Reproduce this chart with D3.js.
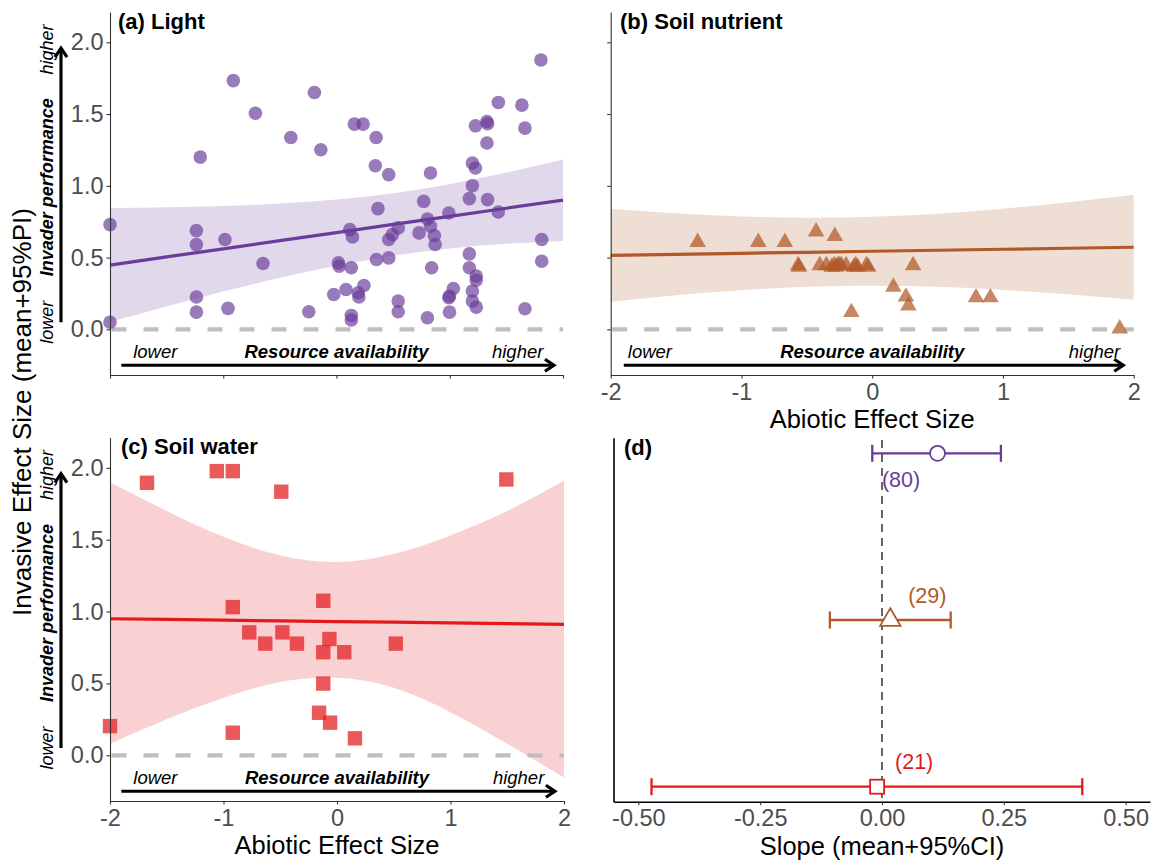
<!DOCTYPE html>
<meta charset="utf-8">
<script src="https://d3js.org/d3.v7.min.js"></script>
<style>
  body { margin: 0; background: #fff; }
  text { font-family: "Liberation Sans", Arial, sans-serif; }
</style>
<body>
<div id="chart"></div>
<script>

// ---- data ----
// (a) light: abiotic effect size vs invasive effect size
var lightX = [-2.0, -2.0, -1.237, -1.237, -1.203, -1.237, -1.237, -0.985, -0.958, -0.911,
  -0.716, -0.649, -0.403, -0.245, -0.195, -0.138, -0.024, 0.017, 0.024, 0.084,
  0.118, 0.141, 0.131, 0.131, 0.131, 0.158, 0.235, 0.242, 0.192, 0.198,
  0.350, 0.343, 0.366, 0.353, 0.461, 0.461, 0.494, 0.545, 0.461, 0.545,
  0.545, 0.729, 0.770, 0.803, 0.830, 0.803, 0.830, 0.864, 0.871, 0.840,
  0.992, 0.998, 0.998, 1.032, 0.992, 1.173, 1.173, 1.200, 1.227, 1.200,
  1.173, 1.227, 1.200, 1.200, 1.234, 1.234, 1.234, 1.328, 1.334, 1.328,
  1.334, 1.429, 1.429, 1.664, 1.637, 1.664, 1.805, 1.812, 1.812];
var lightY = [0.73, 0.05, 0.688, 0.59, 1.20, 0.225, 0.12, 0.626, 0.146, 1.733,
  1.506, 0.459, 1.337, 0.123, 1.650, 1.251, 0.243, 0.463, 0.44, 0.278,
  0.695, 0.644, 0.429, 0.097, 0.065, 1.430, 1.430, 0.306, 0.255, 0.225,
  1.337, 1.140, 0.841, 0.487, 1.078, 0.626, 0.660, 0.707, 0.498, 0.197,
  0.123, 0.672, 0.892, 0.081, 1.089, 0.769, 0.718, 0.654, 0.591, 0.429,
  0.811, 0.120, 0.232, 0.285, 0.220, 0.526, 0.429, 1.159, 1.124, 1.001,
  0.911, 1.418, 0.267, 0.197, 0.155, 0.371, 0.343, 1.448, 1.432, 1.298,
  0.904, 1.581, 0.818, 1.402, 1.562, 0.144, 1.877, 0.626, 0.475];

// (b) soil nutrient
var nutrientX = [-1.335, -0.871, -0.668, -0.429, -0.286, -0.566, -0.560, -0.401, -0.291, -0.264,
  -0.236, -0.277, -0.126, -0.113, -0.044, -0.030, 0.313, 0.162, 0.258, 0.277,
  -0.159, 0.794, 0.904, 1.893, -0.350, -0.200, -0.310, -0.140, -0.250];
var nutrientY = [0.607, 0.607, 0.607, 0.681, 0.649, 0.446, 0.434, 0.446, 0.446, 0.446,
  0.446, 0.434, 0.446, 0.434, 0.446, 0.434, 0.446, 0.296, 0.227, 0.165,
  0.119, 0.222, 0.222, 0.005, 0.446, 0.446, 0.434, 0.434, 0.446];

// (c) soil water
var waterX = [-1.674, -1.059, -0.918, -0.491, 1.492, -0.918, -0.121, -0.773, -0.481, -0.632,
  -0.353, -0.067, -0.121, 0.064, 0.518, -0.121, -0.158, -0.061, 0.158, -2.0, -0.918];
var waterY = [1.896, 1.977, 1.977, 1.834, 1.919, 1.031, 1.075, 0.855, 0.855, 0.777,
  0.777, 0.809, 0.717, 0.717, 0.777, 0.499, 0.296, 0.227, 0.118, 0.203, 0.157];

// fitted lines and 95% bands, read at these x values
var bandX = [-2, -1.5, -1, -0.5, 0, 0.5, 1, 1.5, 2];
var lightFit = [0.448, 0.505, 0.561, 0.618, 0.674, 0.731, 0.787, 0.844, 0.900];
var lightLo = [0.051, 0.160, 0.263, 0.360, 0.444, 0.513, 0.563, 0.596, 0.616];
var lightHi = [0.845, 0.850, 0.859, 0.876, 0.904, 0.949, 1.011, 1.092, 1.184];
var nutrientFit = [0.516, 0.523, 0.530, 0.537, 0.544, 0.551, 0.558, 0.565, 0.572];
var nutrientLo = [0.191, 0.237, 0.273, 0.296, 0.304, 0.296, 0.275, 0.245, 0.207];
var nutrientHi = [0.841, 0.809, 0.787, 0.778, 0.784, 0.806, 0.841, 0.885, 0.937];
var waterFit = [0.950, 0.945, 0.940, 0.935, 0.930, 0.926, 0.921, 0.916, 0.911];
var waterLo = [0.08, 0.25, 0.40, 0.51, 0.54, 0.47, 0.30, 0.08, -0.155];
var waterHi = [1.90, 1.70, 1.52, 1.39, 1.345, 1.40, 1.53, 1.70, 1.91];

// (d) slopes
var slopeGroups = ["Light", "Soil nutrient", "Soil water"];
var slopeMean = [0.114, 0.017, -0.010];
var slopeLo = [-0.020, -0.107, -0.473];
var slopeHi = [0.244, 0.141, 0.411];
var slopeN = ["(80)", "(29)", "(21)"];
var slopeLabelX = [0.039, 0.093, 0.066];

var abioticTicks = [-2, -1, 0, 1, 2];
var effectTicks = [0, 0.5, 1, 1.5, 2];
var slopeTicks = [-0.5, -0.25, 0, 0.25, 0.5];

// ---- drawing ----
var width = 1153, height = 863;
var purple = "#6A3D9A", brown = "#B15928", red = "#E31A1C";
var axisCol = "#333333", tickText = "#4D4D4D";

var svg = d3.select("#chart").append("svg")
    .attr("width", width)
    .attr("height", height);

function zip(xs, ys) {
    return xs.map(function(d, i) { return {x: d, y: ys[i]}; });
}

var panels = [
    {title: "(a) Light", tx: 118, ty: 29, xr: [110, 563], yr: [375, 12], xs: lightX, ys: lightY,
     shape: "circle", color: purple, fit: lightFit, lo: lightLo, hi: lightHi,
     yLabels: true, xLabels: false, side: true, txtX: 1.6},
    {title: "(b) Soil nutrient", tx: 620, ty: 29, xr: [610.7, 1133.7], yr: [375, 12], xs: nutrientX, ys: nutrientY,
     shape: "triangle", color: brown, fit: nutrientFit, lo: nutrientLo, hi: nutrientHi,
     yLabels: false, xLabels: true, side: false, txtX: 1.7},
    {title: "(c) Soil water", tx: 121, ty: 454, xr: [110, 564], yr: [801, 437.5], xs: waterX, ys: waterY,
     shape: "square", color: red, fit: waterFit, lo: waterLo, hi: waterHi,
     yLabels: true, xLabels: true, side: true, txtX: 1.6}
];

panels.forEach(function(p) {
    var x = d3.scaleLinear().domain([-2, 2]).range(p.xr);
    var y = d3.scaleLinear().domain([-0.318, 2.211]).range(p.yr);
    var g = svg.append("g");

    var band = bandX.map(function(d, i) { return {x: d, lo: p.lo[i], hi: p.hi[i], f: p.fit[i]}; });

    g.append("path")
        .datum(band)
        .attr("fill", p.color)
        .attr("fill-opacity", 0.2)
        .attr("d", d3.area()
            .x(function(d) { return x(d.x); })
            .y0(function(d) { return y(d.lo); })
            .y1(function(d) { return y(d.hi); })
            .curve(d3.curveNatural));

    // zero line
    g.append("line")
        .attr("x1", x(-2)).attr("x2", x(2))
        .attr("y1", y(0)).attr("y2", y(0))
        .attr("stroke", "#BEBEBE")
        .attr("stroke-width", 4.2)
        .attr("stroke-dasharray", "15,17")
        .attr("stroke-dashoffset", -1.5);

    var pts = zip(p.xs, p.ys);
    if (p.shape == "circle") {
        g.selectAll(".pt").data(pts).enter().append("circle")
            .attr("cx", function(d) { return x(d.x); })
            .attr("cy", function(d) { return y(d.y); })
            .attr("r", 6.8)
            .attr("fill", p.color)
            .attr("fill-opacity", 0.68);
    } else if (p.shape == "triangle") {
        g.selectAll(".pt").data(pts).enter().append("path")
            .attr("transform", function(d) { return "translate(" + x(d.x) + "," + y(d.y) + ")"; })
            .attr("d", d3.symbol().type(d3.symbolTriangle).size(120))
            .attr("fill", p.color)
            .attr("fill-opacity", 0.72);
    } else {
        g.selectAll(".pt").data(pts).enter().append("rect")
            .attr("x", function(d) { return x(d.x) - 7.2; })
            .attr("y", function(d) { return y(d.y) - 7.2; })
            .attr("width", 14.4)
            .attr("height", 14.4)
            .attr("fill", p.color)
            .attr("fill-opacity", 0.72);
    }

    g.append("path")
        .datum(band)
        .attr("fill", "none")
        .attr("stroke", p.color)
        .attr("stroke-width", 3.2)
        .attr("d", d3.line()
            .x(function(d) { return x(d.x); })
            .y(function(d) { return y(d.f); }));

    // axes
    var yAxis = g.append("g")
        .attr("transform", "translate(" + p.xr[0] + ",0)")
        .call(d3.axisLeft(y).tickValues(effectTicks).tickSize(3.5).tickSizeOuter(0).tickPadding(3)
            .tickFormat(p.yLabels ? function(d) { return d.toFixed(1); } : ""));
    var xAxis = g.append("g")
        .attr("transform", "translate(0," + p.yr[0] + ")")
        .call(d3.axisBottom(x).tickValues(abioticTicks).tickSize(3.5).tickSizeOuter(0).tickPadding(4.5)
            .tickFormat(p.xLabels ? function(d) { return String(d); } : ""));
    [yAxis, xAxis].forEach(function(a) {
        a.select(".domain").attr("stroke", axisCol).attr("stroke-width", 1.1);
        a.selectAll(".tick line").attr("stroke", axisCol).attr("stroke-width", 1.1);
        a.selectAll("text").attr("fill", tickText).attr("font-size", 23.5)
            .attr("font-family", "'Liberation Sans', Arial, sans-serif");
    });

    // panel title
    g.append("text")
        .attr("x", p.tx).attr("y", p.ty)
        .attr("font-size", 22).attr("font-weight", "bold")
        .text(p.title);

    // resource availability arrow
    var ay = y(-0.25), ax0 = x(-1.9), ax1 = x(1.92);
    g.append("line")
        .attr("x1", ax0).attr("x2", ax1 - 1).attr("y1", ay).attr("y2", ay)
        .attr("stroke", "#000").attr("stroke-width", 3.2);
    g.append("path")
        .attr("d", "M" + (ax1 - 9) + "," + (ay - 6) + "L" + ax1 + "," + ay + "L" + (ax1 - 9) + "," + (ay + 6))
        .attr("fill", "none").attr("stroke", "#000").attr("stroke-width", 3.2);

    var ty = y(-0.2);
    g.append("text").attr("x", x(-p.txtX)).attr("y", ty).attr("text-anchor", "middle")
        .attr("font-size", 18.5).attr("font-style", "italic").text("lower");
    g.append("text").attr("x", x(p.txtX)).attr("y", ty).attr("text-anchor", "middle")
        .attr("font-size", 18.5).attr("font-style", "italic").text("higher");
    g.append("text").attr("x", x(0)).attr("y", ty).attr("text-anchor", "middle")
        .attr("font-size", 18.5).attr("font-style", "italic").attr("font-weight", "bold")
        .text("Resource availability");

    if (p.xLabels) {
        g.append("text")
            .attr("x", x(0)).attr("y", p.yr[0] + 53)
            .attr("text-anchor", "middle").attr("font-size", 25.5)
            .text("Abiotic Effect Size");
    }

    // invader performance arrow in the left margin
    if (p.side) {
        var vx = 61, vy0 = y(0.05), vy1 = y(1.96);
        g.append("line")
            .attr("x1", vx).attr("x2", vx).attr("y1", vy0).attr("y2", vy1 + 1)
            .attr("stroke", "#000").attr("stroke-width", 3.2);
        g.append("path")
            .attr("d", "M" + (vx - 6) + "," + (vy1 + 9) + "L" + vx + "," + vy1 + "L" + (vx + 6) + "," + (vy1 + 9))
            .attr("fill", "none").attr("stroke", "#000").attr("stroke-width", 3.2);
        var side = [
            {t: "higher", v: 1.95, b: false},
            {t: "Invader performance", v: 0.99, b: true},
            {t: "lower", v: 0.05, b: false}
        ];
        side.forEach(function(s) {
            var yy = y(s.v);
            g.append("text")
                .attr("transform", "translate(47," + yy + ") rotate(-90)")
                .attr("text-anchor", "middle")
                .attr("dominant-baseline", "central")
                .attr("font-size", 18)
                .attr("font-style", "italic")
                .attr("font-weight", s.b ? "bold" : "normal")
                .text(s.t);
        });
    }
});

// shared y title
svg.append("text")
    .attr("transform", "translate(22,412) rotate(-90)")
    .attr("text-anchor", "middle")
    .attr("dominant-baseline", "central")
    .attr("font-size", 26)
    .text("Invasive Effect Size (mean+95%PI)");

// ---- panel (d) ----
(function() {
    var x = d3.scaleLinear().domain([-0.55, 0.55]).range([614, 1150]);
    var y = d3.scaleLinear().domain([-0.09, 2.09]).range([438.3, 801.7]);
    var cols = [purple, brown, red];
    var g = svg.append("g");

    g.append("line")
        .attr("x1", x(0)).attr("x2", x(0))
        .attr("y1", 440).attr("y2", 801.7)
        .attr("stroke", "#666666").attr("stroke-width", 2)
        .attr("stroke-dasharray", "8,6");

    var rows = slopeGroups.map(function(d, i) {
        return {g: d, i: i, m: slopeMean[i], lo: slopeLo[i], hi: slopeHi[i], n: slopeN[i], lx: slopeLabelX[i]};
    });

    rows.forEach(function(r) {
        var c = cols[r.i], yy = y(r.i);
        g.append("line").attr("x1", x(r.lo)).attr("x2", x(r.hi)).attr("y1", yy).attr("y2", yy)
            .attr("stroke", c).attr("stroke-width", 2.3);
        [r.lo, r.hi].forEach(function(v) {
            g.append("line").attr("x1", x(v)).attr("x2", x(v)).attr("y1", yy - 8.5).attr("y2", yy + 8.5)
                .attr("stroke", c).attr("stroke-width", 2.3);
        });
        if (r.i == 0) {
            g.append("circle").attr("cx", x(r.m)).attr("cy", yy).attr("r", 7.5)
                .attr("fill", "#fff").attr("stroke", c).attr("stroke-width", 1.8);
        } else if (r.i == 1) {
            g.append("path").attr("transform", "translate(" + x(r.m) + "," + yy + ")")
                .attr("d", d3.symbol().type(d3.symbolTriangle).size(180))
                .attr("fill", "#fff").attr("stroke", c).attr("stroke-width", 1.8);
        } else {
            g.append("rect").attr("x", x(r.m) - 7).attr("y", yy - 7).attr("width", 14).attr("height", 14)
                .attr("fill", "#fff").attr("stroke", c).attr("stroke-width", 1.8);
        }
    });

    var labelY = [480, 596, 762];
    rows.forEach(function(r) {
        g.append("text").attr("x", x(r.lx)).attr("y", labelY[r.i])
            .attr("text-anchor", "middle").attr("dominant-baseline", "central")
            .attr("font-size", 21.5).attr("fill", cols[r.i]).text(r.n);
    });

    var xAxis = g.append("g")
        .attr("transform", "translate(0,801.7)")
        .call(d3.axisBottom(x).tickValues(slopeTicks).tickSize(3.5).tickSizeOuter(0).tickPadding(4.5)
            .tickFormat(function(d) { return d.toFixed(2); }));
    xAxis.select(".domain").attr("stroke", "#000").attr("stroke-width", 1.6);
    xAxis.selectAll(".tick line").attr("stroke", axisCol).attr("stroke-width", 1.1);
    xAxis.selectAll("text").attr("fill", tickText).attr("font-size", 23.5)
        .attr("font-family", "'Liberation Sans', Arial, sans-serif");

    g.append("line").attr("x1", 614).attr("x2", 614).attr("y1", 438.3).attr("y2", 802.5)
        .attr("stroke", "#000").attr("stroke-width", 1.6);

    g.append("text").attr("x", 624).attr("y", 455)
        .attr("font-size", 22).attr("font-weight", "bold").text("(d)");

    g.append("text").attr("x", x(0)).attr("y", 854.5)
        .attr("text-anchor", "middle").attr("font-size", 25.5)
        .text("Slope (mean+95%CI)");
})();

</script>
</body>
